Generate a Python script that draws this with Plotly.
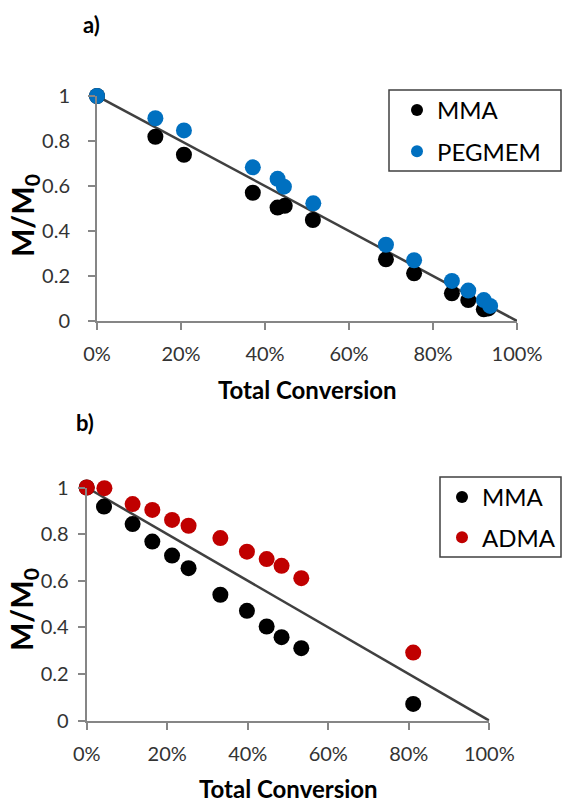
import plotly.graph_objects as go

# ---- Panel a) data ----
a_mma_x = [0.0, 0.139, 0.207, 0.371, 0.430, 0.447, 0.514, 0.688, 0.755, 0.845, 0.884, 0.921, 0.932]
a_mma_y = [1.0, 0.819, 0.739, 0.570, 0.504, 0.512, 0.449, 0.274, 0.212, 0.123, 0.093, 0.052, 0.056]
a_peg_x = [0.0, 0.139, 0.207, 0.371, 0.430, 0.445, 0.515, 0.688, 0.755, 0.845, 0.884, 0.921, 0.936]
a_peg_y = [1.0, 0.901, 0.847, 0.683, 0.632, 0.597, 0.523, 0.339, 0.270, 0.178, 0.135, 0.093, 0.067]

# ---- Panel b) data ----
b_mma_x = [0.0, 0.043, 0.114, 0.163, 0.212, 0.253, 0.332, 0.398, 0.447, 0.484, 0.533, 0.811]
b_mma_y = [1.0, 0.918, 0.843, 0.768, 0.708, 0.654, 0.540, 0.471, 0.404, 0.358, 0.311, 0.072]
b_adma_x = [0.0, 0.044, 0.114, 0.163, 0.212, 0.253, 0.332, 0.398, 0.447, 0.484, 0.533, 0.811]
b_adma_y = [1.0, 0.997, 0.929, 0.904, 0.861, 0.836, 0.783, 0.725, 0.693, 0.664, 0.611, 0.292]

# ideal line
ideal_x = [0, 1]
ideal_y = [1, 0]

x_tickvals = [0, 0.2, 0.4, 0.6, 0.8, 1.0]
x_ticktext = ["0%", "20%", "40%", "60%", "80%", "100%"]
y_tickvals = [0, 0.2, 0.4, 0.6, 0.8, 1.0]
y_ticktext = ["0", "0.2", "0.4", "0.6", "0.8", "1"]

W, H = 563, 798
FONT = "Lato"
BLACK = "#000000"
BLUE = "#0070C0"
RED = "#C00000"
LINE = "#404040"
AXIS = "#868686"
MS = 16

fig = go.Figure()

def px_x(v):
    return v / W

def px_y(v):
    return 1 - v / H

# panel a
fig.add_trace(go.Scatter(x=ideal_x, y=ideal_y, mode="lines", line=dict(color=LINE, width=2.5),
                         showlegend=False, xaxis="x", yaxis="y", hoverinfo="skip"))
fig.add_trace(go.Scatter(x=a_mma_x, y=a_mma_y, mode="markers", name="MMA", legendgroup="a1",
                         marker=dict(color=BLACK, size=MS), cliponaxis=False, xaxis="x", yaxis="y", legend="legend"))
fig.add_trace(go.Scatter(x=a_peg_x, y=a_peg_y, mode="markers", name="PEGMEM", legendgroup="a2",
                         marker=dict(color=BLUE, size=MS), cliponaxis=False, xaxis="x", yaxis="y", legend="legend"))
# panel b
fig.add_trace(go.Scatter(x=ideal_x, y=ideal_y, mode="lines", line=dict(color=LINE, width=2.5),
                         showlegend=False, xaxis="x2", yaxis="y2", hoverinfo="skip"))
fig.add_trace(go.Scatter(x=b_mma_x, y=b_mma_y, mode="markers", name="MMA", legendgroup="b1",
                         marker=dict(color=BLACK, size=MS), cliponaxis=False, xaxis="x2", yaxis="y2", legend="legend2"))
fig.add_trace(go.Scatter(x=b_adma_x, y=b_adma_y, mode="markers", name="ADMA", legendgroup="b2",
                         marker=dict(color=RED, size=MS), cliponaxis=False, xaxis="x2", yaxis="y2", legend="legend2"))

tickfont = dict(family=FONT, size=20, color="#333333")

def xaxis(domain, anchor):
    return dict(domain=domain, anchor=anchor, range=[0, 1], tickvals=x_tickvals, ticktext=x_ticktext,
                showgrid=False, zeroline=False, showline=True, linecolor=AXIS, linewidth=2,
                ticks="outside", ticklen=7, tickwidth=2, tickcolor=AXIS, tickfont=tickfont,
                ticklabelstandoff=7, fixedrange=True)

def yaxis(domain, anchor, standoff):
    return dict(domain=domain, anchor=anchor, range=[0, 1], tickvals=y_tickvals, ticktext=y_ticktext,
                showgrid=False, zeroline=False, showline=True, linecolor=AXIS, linewidth=2,
                ticks="outside", ticklen=7, tickwidth=2, tickcolor=AXIS, tickfont=tickfont,
                ticklabelstandoff=standoff, fixedrange=True)

legend_common = dict(font=dict(family=FONT, size=24, color="#000000"), borderwidth=0,
                     bgcolor="rgba(0,0,0,0)", xanchor="left", yanchor="top",
                     traceorder="grouped", itemsizing="constant")

fig.update_layout(
    width=W, height=H,
    margin=dict(l=0, r=0, t=0, b=0, autoexpand=False),
    paper_bgcolor="white", plot_bgcolor="white",
    xaxis=xaxis([px_x(97), px_x(517)], "y"),
    yaxis=yaxis([px_y(321), px_y(96)], "x", 14),
    xaxis2=xaxis([px_x(86.7), px_x(489.3)], "y2"),
    yaxis2=yaxis([px_y(720.7), px_y(487.5)], "x2", 5),
    legend=dict(x=px_x(397), y=px_y(88), tracegroupgap=7, **legend_common),
    legend2=dict(x=px_x(442), y=px_y(475), tracegroupgap=6, **legend_common),
    showlegend=True,
)

shapes = [
    dict(type="rect", xref="paper", yref="paper", x0=px_x(389), x1=px_x(561), y0=px_y(171), y1=px_y(90),
         line=dict(color="#404040", width=1.5), fillcolor="rgba(0,0,0,0)", layer="above"),
    dict(type="rect", xref="paper", yref="paper", x0=px_x(440), x1=px_x(561), y0=px_y(557), y1=px_y(477),
         line=dict(color="#404040", width=1.5), fillcolor="rgba(0,0,0,0)", layer="above"),
]

ann = []
def add_text(text, cx, cy, size, angle=0):
    ann.append(dict(text=text, x=px_x(cx), y=px_y(cy), xref="paper", yref="paper",
                    xanchor="center", yanchor="middle", textangle=angle,
                    showarrow=False, font=dict(family=FONT, size=size, color="black")))

add_text("<b>a)</b>", 91, 25, 22)
add_text("<b>b)</b>", 85, 422, 22)
add_text("<b>Total Conversion</b>", 307, 389, 24)
add_text("<b>Total Conversion</b>", 288, 788, 24)
add_text("<b>M/M<sub>0</sub></b>", 24, 216, 30, -90)
add_text("<b>M/M<sub>0</sub></b>", 23, 610, 30, -90)
fig.update_layout(annotations=ann, shapes=shapes)

fig.write_html("out.html", config={"displayModeBar": False, "staticPlot": True},
               post_script="document.body.style.margin='0';document.body.style.padding='0';")
